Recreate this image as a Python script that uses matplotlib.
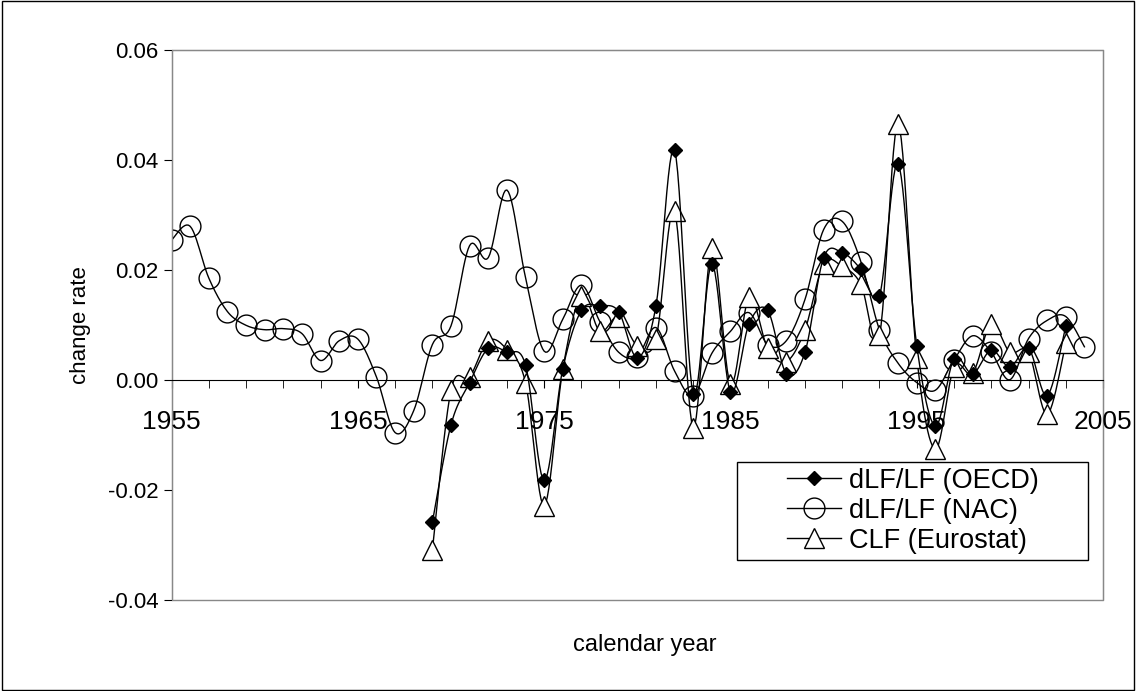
import numpy as np
import matplotlib
matplotlib.use("Agg")
import matplotlib.pyplot as plt
from matplotlib.patches import Rectangle
from matplotlib.lines import Line2D
from matplotlib.transforms import ScaledTranslation

plt.rcParams['font.family'] = ['Liberation Sans', 'DejaVu Sans']

# -----------------------------
# data
# -----------------------------
nac_years = list(range(1955, 2005))
nac = [0.0254, 0.0279, 0.0185, 0.0124, 0.0099, 0.0091, 0.0093, 0.0084, 0.0035, 0.0071,
       0.0074, 0.0005, -0.0096, -0.0056, 0.0064, 0.0098, 0.0244, 0.0222, 0.0345, 0.0186,
       0.0052, 0.0110, 0.0172, 0.0105, 0.0050, 0.0042, 0.0095, 0.0016, -0.0029, 0.0048,
       0.0088, 0.0122, 0.0064, 0.0071, 0.0146, 0.0273, 0.0288, 0.0215, 0.0091, 0.0030,
       -0.0005, -0.0019, 0.0036, 0.0080, 0.0050, 0.0000, 0.0075, 0.0108, 0.0115, 0.0060]

oecd_years = list(range(1969, 2004))
oecd = [-0.0259, -0.0082, -0.0005, 0.0057, 0.0050, 0.0027, -0.0183, 0.0020, 0.0126, 0.0134,
        0.0124, 0.0040, 0.0134, 0.0417, -0.0025, 0.0211, -0.0022, 0.0102, 0.0126, 0.0011,
        0.0050, 0.0222, 0.0231, 0.0201, 0.0153, 0.0393, 0.0062, -0.0084, 0.0038, 0.0011,
        0.0054, 0.0023, 0.0057, -0.0029, 0.0098]

clf_years = list(range(1969, 2004))
clf = [-0.0310, -0.0019, 0.0005, 0.0071, 0.0055, -0.0005, -0.0229, 0.0019, 0.0153, 0.0088,
       0.0115, 0.0062, 0.0074, 0.0307, -0.0087, 0.0240, -0.0008, 0.0150, 0.0057, 0.0033,
       0.0091, 0.0211, 0.0206, 0.0174, 0.0081, 0.0465, 0.0040, -0.0126, 0.0023, 0.0012,
       0.0102, 0.0050, 0.0050, -0.0063, 0.0067]

y_ticks = [-0.04, -0.02, 0.00, 0.02, 0.04, 0.06]
x_labels = [1955, 1965, 1975, 1985, 1995, 2005]


def smooth(xs, ys, n=12):
    """Catmull-Rom curve through the points (like Excel's smoothed line)."""
    x = np.asarray(xs, float)
    y = np.asarray(ys, float)
    px = np.concatenate([[x[0]], x, [x[-1]]])
    py = np.concatenate([[y[0]], y, [y[-1]]])
    t = np.linspace(0, 1, n, endpoint=False)
    ox, oy = [], []
    for i in range(1, len(px) - 2):
        for p, out in ((px, ox), (py, oy)):
            p0, p1, p2, p3 = p[i - 1], p[i], p[i + 1], p[i + 2]
            out.extend(0.5 * (2 * p1 + (-p0 + p2) * t
                              + (2 * p0 - 5 * p1 + 4 * p2 - p3) * t ** 2
                              + (-p0 + 3 * p1 - 3 * p2 + p3) * t ** 3))
    ox.append(x[-1])
    oy.append(y[-1])
    return ox, oy


fig = plt.figure(figsize=(11.36, 6.91), dpi=100)
fig.patches.append(Rectangle((0.002, 0.002), 0.996, 0.996, transform=fig.transFigure,
                             fill=False, edgecolor='black', linewidth=1))
ax = fig.add_axes([0.151, 0.132, 0.82, 0.796])

series = [
    (oecd_years, oecd, dict(marker='D', ms=7, mfc='black'), 'dLF/LF (OECD)', 3),
    (nac_years, nac, dict(marker='o', ms=15, mfc='none'), 'dLF/LF (NAC)', 2),
    (clf_years, clf, dict(marker='^', ms=15, mfc='white'), 'CLF (Eurostat)', 2),
]
handles = []
for xs, ys, mk, label, z in series:
    sx, sy = smooth(xs, ys)
    ax.plot(sx, sy, color='black', lw=1, zorder=z)
    ax.plot(xs, ys, ls='none', mec='black', zorder=z, **mk)
    handles.append(Line2D([], [], color='black', lw=1, mec='black', label=label, **mk))

ax.set_xlim(1955, 2005)
ax.set_ylim(-0.04, 0.06)
ax.set_yticks(y_ticks)
ax.set_yticklabels([f"{v:.2f}" for v in y_ticks])
ax.set_xticks(x_labels)
ax.set_xticklabels([])
ax.set_xticks(range(1955, 2006, 2), minor=True)
ax.tick_params(axis='x', which='both', length=6, direction='out')
ax.tick_params(axis='y', length=6, direction='out', labelsize=16)

# year labels hang well below the zero line, as in the original
shift = ScaledTranslation(0, -30 / 100, fig.dpi_scale_trans)
for yr in x_labels:
    ax.text(yr, 0, str(yr), fontsize=19, ha='center', va='top',
            transform=ax.transData + shift, clip_on=False)

for s in ['top', 'right', 'left']:
    ax.spines[s].set_color('#888888')
ax.spines['bottom'].set_position(('data', 0))
ax.add_patch(Rectangle((0, 0), 1, 1, transform=ax.transAxes, fill=False,
                       edgecolor='#888888', lw=1, zorder=0, clip_on=False))

ax.set_ylabel('change rate', fontsize=16, labelpad=12)
fig.text(0.568, 0.058, 'calendar year', ha='center', fontsize=17)

# legend: fixed white box, entries centred inside it
lx, ly, lw_, lh = 0.607, 0.073, 0.377, 0.178
ax.add_patch(Rectangle((lx, ly), lw_, lh, transform=ax.transAxes, facecolor='white',
                       edgecolor='black', lw=1, zorder=5))
leg = ax.legend(handles=handles, loc='center', bbox_to_anchor=(lx + lw_ / 2, ly + lh / 2),
                fontsize=19.5, frameon=False, borderpad=0, labelspacing=0.15,
                handlelength=2.0, handletextpad=0.3, borderaxespad=0)
leg.set_zorder(6)

fig.savefig('out.png', dpi=100)
